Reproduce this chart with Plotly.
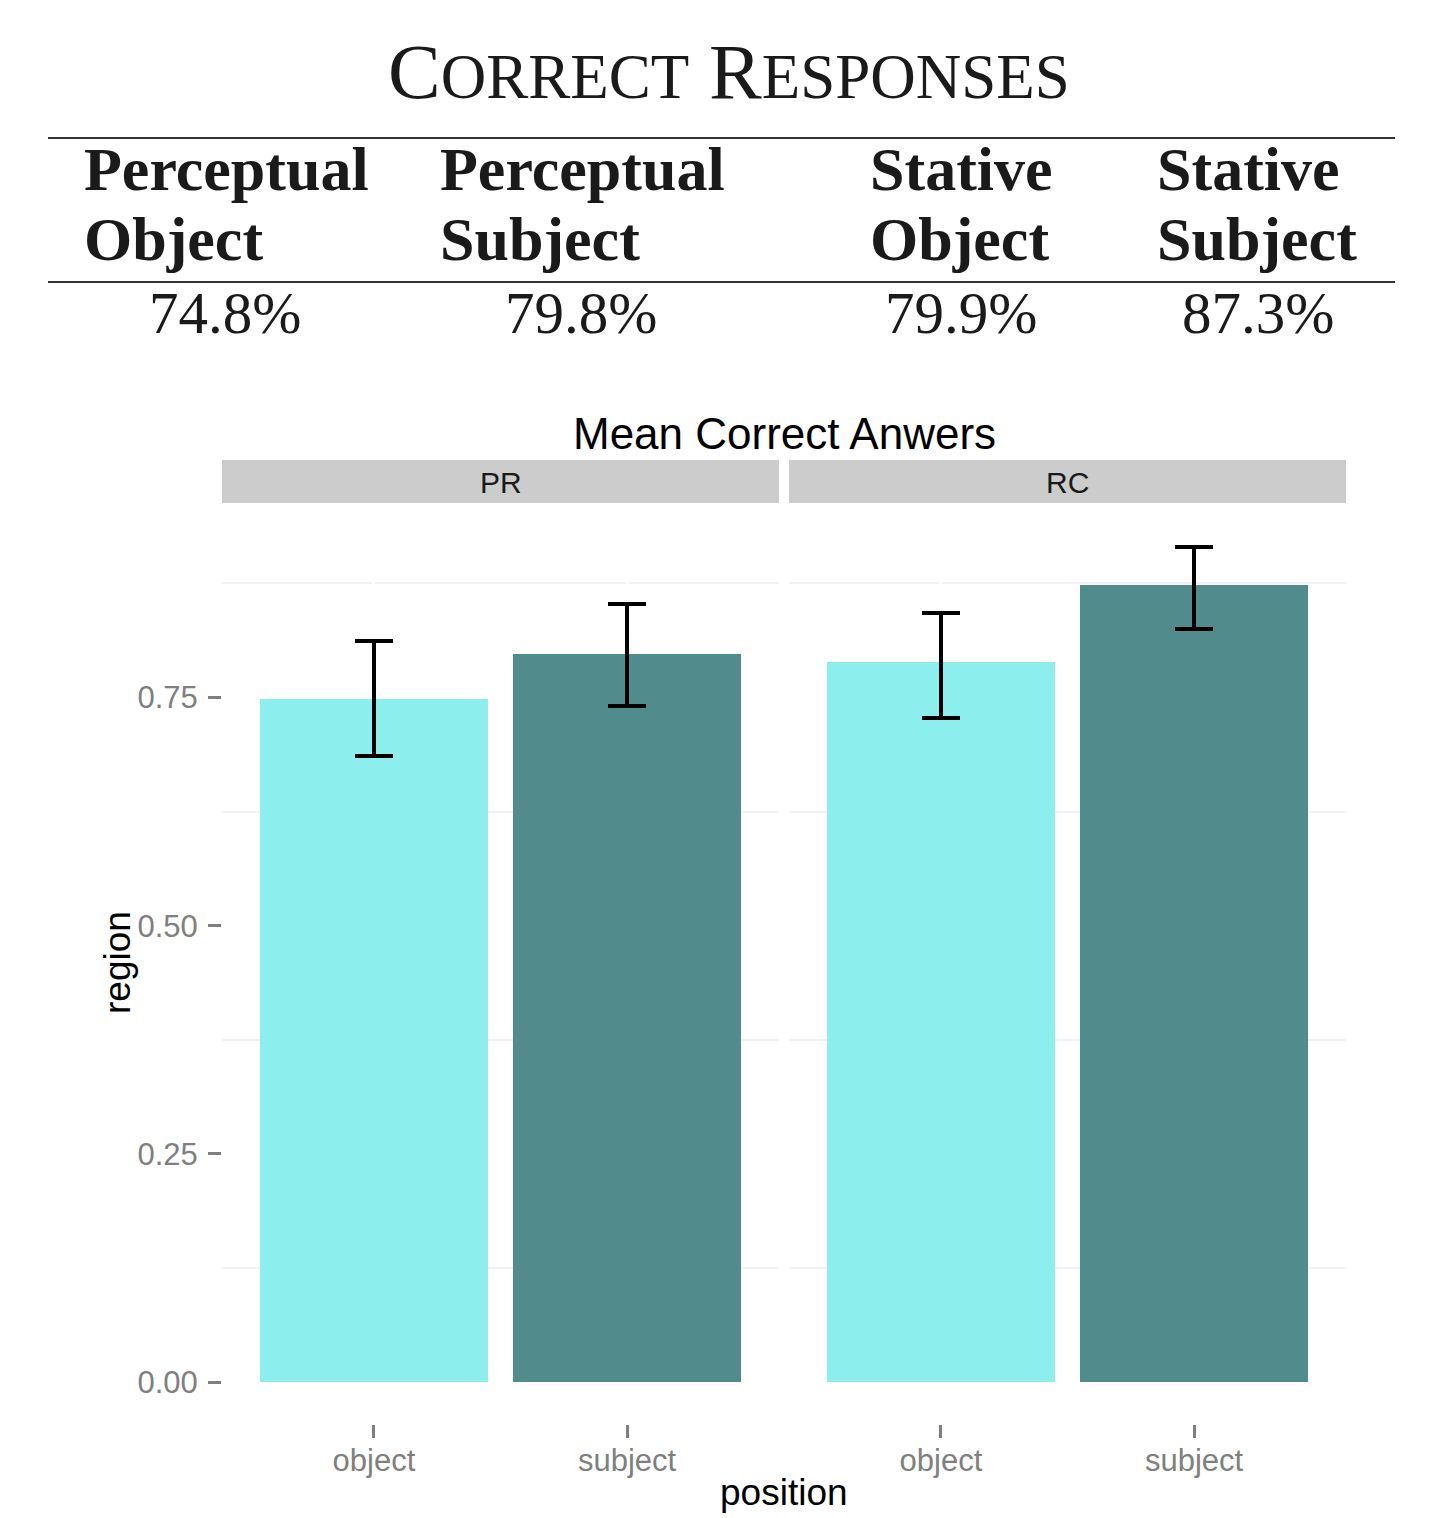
import plotly.graph_objects as go

# ---- data -------------------------------------------------------------
panels = ["PR", "RC"]
positions = ["object", "subject"]
pr_means = [0.748, 0.798]
rc_means = [0.789, 0.873]
pr_err_hi = [0.8115, 0.852]
pr_err_lo = [0.686, 0.741]
rc_err_hi = [0.842, 0.915]
rc_err_lo = [0.727, 0.825]

table_head_1 = ["Perceptual", "Perceptual", "Stative", "Stative"]
table_head_2 = ["Object", "Subject", "Object", "Subject"]
table_pcts = ["74.8%", "79.8%", "79.9%", "87.3%"]

y_ticks = [0.0, 0.25, 0.50, 0.75]
y_tick_text = ["0.00", "0.25", "0.50", "0.75"]

# ---- styling ------------------------------------------------------------
W, H = 1436, 1518
fill_colors = ["#8DEEEE", "#528B8B"]
SANS = "Liberation Sans"
SERIF = "Liberation Serif"


def px(x):
    return x / W


def py(y):
    return 1 - y / H


fig = go.Figure()

for i, (means, hi, lo) in enumerate([(pr_means, pr_err_hi, pr_err_lo),
                                      (rc_means, rc_err_hi, rc_err_lo)]):
    xa = "x" if i == 0 else "x2"
    fig.add_trace(go.Bar(
        x=positions, y=means, xaxis=xa, yaxis="y",
        width=0.9, marker=dict(color=fill_colors, line=dict(width=0)),
        error_y=dict(type="data", symmetric=False,
                     array=[h - m for h, m in zip(hi, means)],
                     arrayminus=[m - l for m, l in zip(means, lo)],
                     color="black", thickness=4, width=19),
        showlegend=False, hoverinfo="skip",
    ))

# ggplot-style 5% expansion of the data range
ymax = max(pr_err_hi + rc_err_hi)
y_range = [-0.05 * ymax, 1.05 * ymax]

axis_common = dict(
    type="category", range=[-0.6, 1.6], showline=False, zeroline=False,
    showgrid=True, gridcolor="white", gridwidth=3,
    ticks="outside", ticklen=13, tickwidth=3, tickcolor="#7F7F7F",
    ticklabelstandoff=-4,
    tickfont=dict(family=SANS, size=31, color="#7F7F7F"),
)
fig.update_layout(
    xaxis=dict(domain=[px(222), px(779)], anchor="y", **axis_common),
    xaxis2=dict(domain=[px(789), px(1346)], anchor="y", **axis_common),
    yaxis=dict(
        domain=[py(1424), py(505)], range=y_range, anchor="x",
        tickvals=y_ticks, ticktext=y_tick_text,
        showgrid=False, zeroline=False, showline=False,
        ticks="outside", ticklen=13, tickwidth=3, tickcolor="#7F7F7F",
        ticklabelstandoff=4,
        tickfont=dict(family=SANS, size=31, color="#7F7F7F"),
        minor=dict(tickvals=[0.125, 0.375, 0.625, 0.875], showgrid=True,
                   gridcolor="#F2F2F2", gridwidth=2, ticks=""),
    ),
)

shapes = []
annotations = []

# facet strips
for i, name in enumerate(panels):
    xref = "x domain" if i == 0 else "x2 domain"
    shapes.append(dict(type="rect", xref=xref, yref="paper",
                       x0=0, x1=1, y0=py(503), y1=py(460),
                       fillcolor="#CCCCCC", line=dict(width=0), layer="below"))
    annotations.append(dict(text=name, xref=xref, yref="paper", x=0.5, y=py(483),
                            xanchor="center", yanchor="middle", showarrow=False,
                            font=dict(family=SANS, size=30, color="#1A1A1A")))

# chart title and axis titles
annotations.append(dict(text="Mean Correct Anwers", xref="paper", yref="paper",
                        x=px(784), y=py(434), xanchor="center", yanchor="middle",
                        showarrow=False, font=dict(family=SANS, size=44, color="black")))
annotations.append(dict(text="position", xref="paper", yref="paper",
                        x=px(784), y=py(1492), xanchor="center", yanchor="middle",
                        showarrow=False, font=dict(family=SANS, size=37, color="black")))
annotations.append(dict(text="region", xref="paper", yref="paper", textangle=-90,
                        x=px(117), y=py(963), xanchor="center", yanchor="middle",
                        showarrow=False, font=dict(family=SANS, size=37, color="black")))

# summary table above the chart
annotations.append(dict(
    text=("C<span style='font-size:63px'>ORRECT</span> "
          "R<span style='font-size:63px'>ESPONSES</span>"),
    xref="paper", yref="paper", x=px(729), y=py(71),
    xanchor="center", yanchor="middle", showarrow=False,
    font=dict(family=SERIF, size=79, color="#1A1A1A")))

for y_line in (138, 282):
    shapes.append(dict(type="line", xref="paper", yref="paper",
                       x0=px(48), x1=px(1395), y0=py(y_line), y1=py(y_line),
                       line=dict(color="#333333", width=2)))

head_x = [82, 438, 868, 1155]
pct_x = [225, 581, 961, 1258]
for hx, h1, h2 in zip(head_x, table_head_1, table_head_2):
    for txt, yc in ((h1, 169), (h2, 239)):
        annotations.append(dict(text="<b>%s</b>" % txt, xref="paper", yref="paper",
                                x=px(hx), y=py(yc), xanchor="left", yanchor="middle",
                                showarrow=False,
                                font=dict(family=SERIF, size=62, color="#1A1A1A")))
for cx, txt in zip(pct_x, table_pcts):
    annotations.append(dict(text=txt, xref="paper", yref="paper",
                            x=px(cx), y=py(313), xanchor="center", yanchor="middle",
                            showarrow=False,
                            font=dict(family=SERIF, size=59, color="#1A1A1A")))

fig.update_layout(
    width=W, height=H, margin=dict(l=0, r=0, t=0, b=0),
    paper_bgcolor="white", plot_bgcolor="white",
    shapes=shapes, annotations=annotations, bargap=0,
)

fig.write_html("out.html")
